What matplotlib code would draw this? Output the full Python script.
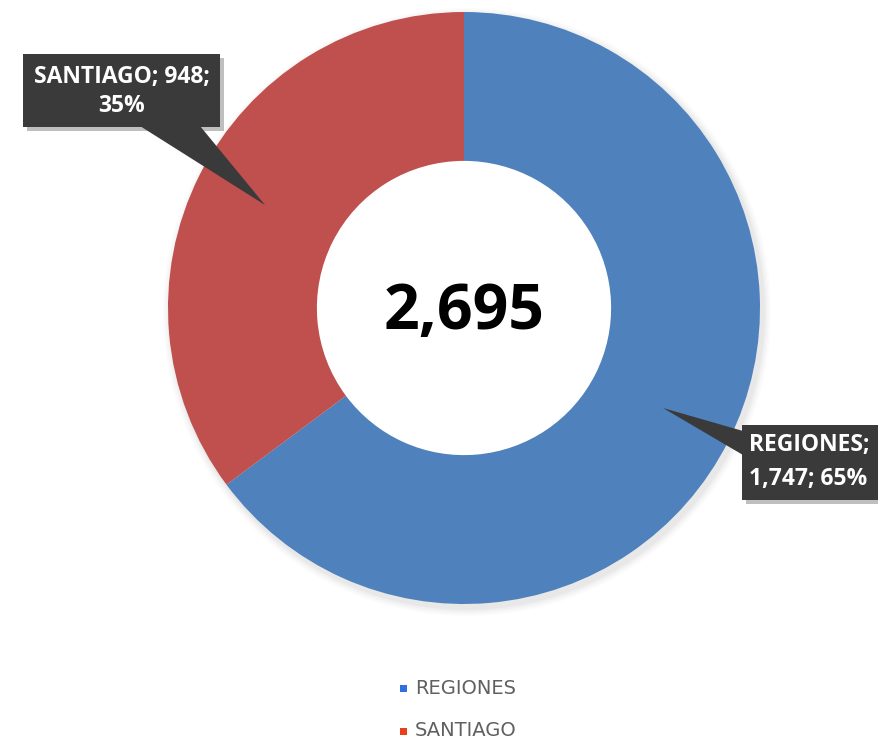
import matplotlib
matplotlib.use("Agg")
import matplotlib.pyplot as plt
from matplotlib.patches import Rectangle, Polygon, Circle

categories = ["REGIONES", "SANTIAGO"]
values = [1747, 948]
percent_labels = ["65%", "35%"]
total_label = "2,695"
slice_colors = ["#4F81BD", "#C0504D"]
legend_colors = ["#2F6FE0", "#E8401C"]

W, H = 879, 742
fig = plt.figure(figsize=(W / 100, H / 100), dpi=100)
ax = fig.add_axes([0, 0, 1, 1])

def py(y):
    return H - y

cx, cy, R = 464, py(308), 296
hole = R * 0.497

# soft shadow under donut
for i, a in enumerate([0.03, 0.025, 0.02, 0.015]):
    ax.add_patch(Circle((cx + 3, cy - 4), R + 2 + i * 2, color="black", alpha=a, lw=0, zorder=0))
ax.add_patch(Circle((cx, cy), hole + 1, color="white", lw=0, zorder=0.5))

ax.pie(values, colors=slice_colors, startangle=90, counterclock=False,
       radius=R, center=(cx, cy), frame=True,
       wedgeprops=dict(width=R - hole, edgecolor="none", linewidth=0))
ax.set_xlim(0, W)
ax.set_ylim(0, H)
ax.set_aspect("equal")
ax.axis("off")

ax.text(cx, py(313), total_label, ha="center", va="center", fontsize=45,
        fontweight="bold", family="Open Sans", color="black")

box_color = "#3A3A3A"
txt_kw = dict(color="white", fontweight="bold", family="Open Sans", fontsize=16.5)

def callout(x0, y0, x1, y1, pointer, zorder=5):
    ax.add_patch(Rectangle((x0 + 4, py(y1) - 4), x1 - x0, y1 - y0, color="black",
                           alpha=0.25, lw=0, zorder=zorder - 1))
    ax.add_patch(Polygon([(x, py(y)) for x, y in pointer], closed=True,
                         color=box_color, lw=0, zorder=zorder))
    ax.add_patch(Rectangle((x0, py(y1)), x1 - x0, y1 - y0, color=box_color,
                           lw=0, zorder=zorder))

# SANTIAGO callout
callout(23, 54, 220, 127, [(140, 126), (200, 126), (265, 205)])
ax.text(121.5, py(77), f"{categories[1]}; {values[1]:,};", ha="center", va="center", zorder=6, **txt_kw)
ax.text(121.5, py(106), percent_labels[1], ha="center", va="center", zorder=6, **txt_kw)

# REGIONES callout
callout(742, 425, 884, 500, [(743, 431), (743, 455), (663, 408)])
ax.text(749, py(445), f"{categories[0]};", ha="left", va="center", zorder=6, **txt_kw)
ax.text(749, py(479), f"{values[0]:,}; {percent_labels[0]}", ha="left", va="center", zorder=6, **txt_kw)

# legend
for i, (name, col) in enumerate(zip(categories, legend_colors)):
    yy = py(688 + i * 43)
    ax.add_patch(Rectangle((400, yy - 3.5), 7, 7, color=col, lw=0))
    ax.text(415, yy, name, ha="left", va="center", fontsize=14,
            family="DejaVu Sans", color="#606060")

fig.savefig("out.png", dpi=100)
